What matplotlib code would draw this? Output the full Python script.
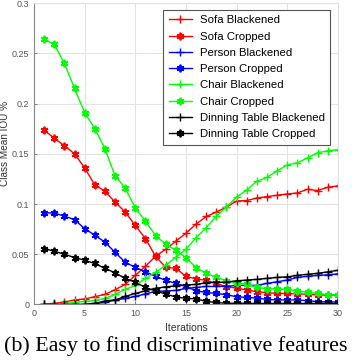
import matplotlib
matplotlib.use("Agg")
import matplotlib.pyplot as plt
import numpy as np

# iterations 1..30
iterations = list(range(1, 31))

sofa_blackened = [0.0005, 0.001, 0.0025, 0.0045, 0.0055, 0.0078, 0.010, 0.0147, 0.020, 0.029,
                  0.038, 0.048, 0.055, 0.063, 0.071, 0.080, 0.0876, 0.092, 0.097, 0.103,
                  0.1035, 0.106, 0.1074, 0.1087, 0.110, 0.111, 0.1147, 0.1134, 0.1167, 0.118]
sofa_cropped = [0.1735, 0.1655, 0.158, 0.150, 0.136, 0.119, 0.1127, 0.102, 0.092, 0.0787,
                0.0655, 0.048, 0.037, 0.036, 0.028, 0.0255, 0.024, 0.021, 0.0176, 0.0163,
                0.0144, 0.0127, 0.0117, 0.011, 0.011, 0.0104, 0.0104, 0.0094, 0.0094, 0.0094]
person_blackened = [0.0, 0.0, 0.0, 0.0, 0.0, 0.001, 0.002, 0.0045, 0.006, 0.008,
                    0.0105, 0.013, 0.0135, 0.014, 0.016, 0.017, 0.018, 0.018, 0.018, 0.019,
                    0.019, 0.019, 0.021, 0.0226, 0.0243, 0.027, 0.028, 0.029, 0.0295, 0.0305]
person_cropped = [0.0913, 0.091, 0.088, 0.0844, 0.0755, 0.069, 0.062, 0.052, 0.042, 0.037,
                  0.0325, 0.028, 0.024, 0.021, 0.018, 0.0135, 0.012, 0.011, 0.0097, 0.0077,
                  0.007, 0.0064, 0.005, 0.0045, 0.0045, 0.0045, 0.0038, 0.0028, 0.0025, 0.0025]
chair_blackened = [0.0, 0.0, 0.001, 0.002, 0.003, 0.004, 0.006, 0.010, 0.015, 0.019,
                   0.026, 0.032, 0.039, 0.047, 0.055, 0.0665, 0.0764, 0.088, 0.097, 0.107,
                   0.114, 0.1226, 0.1265, 0.133, 0.139, 0.141, 0.146, 0.151, 0.153, 0.154]
chair_cropped = [0.264, 0.259, 0.240, 0.215, 0.191, 0.175, 0.155, 0.128, 0.116, 0.096,
                 0.083, 0.0685, 0.060, 0.054, 0.0467, 0.0368, 0.031, 0.027, 0.0236, 0.021,
                 0.0203, 0.017, 0.0157, 0.0157, 0.015, 0.0137, 0.012, 0.011, 0.0097, 0.0097]
table_blackened = [0.0, 0.0, 0.0, 0.0, 0.0, 0.001, 0.0035, 0.0045, 0.008, 0.011,
                   0.0137, 0.016, 0.0176, 0.0186, 0.0193, 0.020, 0.0216, 0.022, 0.0223, 0.0236,
                   0.0243, 0.025, 0.026, 0.027, 0.0275, 0.029, 0.030, 0.031, 0.0325, 0.034]
table_cropped = [0.0556, 0.053, 0.050, 0.0467, 0.044, 0.0408, 0.036, 0.0315, 0.026, 0.022,
                 0.017, 0.0135, 0.0104, 0.0075, 0.006, 0.0057, 0.003, 0.002, 0.0012, 0.0012,
                 0.001, 0.001, 0.001, 0.001, 0.001, 0.001, 0.001, 0.001, 0.001, 0.001]

series = [
    ("Sofa Blackened", sofa_blackened, "#ff0000", "+"),
    ("Sofa Cropped", sofa_cropped, "#ff0000", "*"),
    ("Person Blackened", person_blackened, "#0000ff", "+"),
    ("Person Cropped", person_cropped, "#0000ff", "*"),
    ("Chair Blackened", chair_blackened, "#00ff00", "+"),
    ("Chair Cropped", chair_cropped, "#00ff00", "*"),
    ("Dinning Table Blackened", table_blackened, "#000000", "+"),
    ("Dinning Table Cropped", table_cropped, "#000000", "*"),
]

plt.rcParams['font.family'] = ['Liberation Sans', 'DejaVu Sans']

fig = plt.figure(figsize=(3.52, 3.64), dpi=100)
ax = fig.add_axes([0.0966, 0.1635, 0.8634, 0.828])

for label, vals, color, mk in series:
    if mk == "+":
        ax.plot(iterations, vals, color=color, lw=1.0, marker="+", ms=6,
                mew=1.0, label=label)
    else:
        # MATLAB style asterisk
        ax.plot(iterations, vals, color=color, lw=1.0, marker=(6, 2, 0), ms=5.5,
                mew=1.3, label=label)

ax.set_xlim(0, 30)
ax.set_ylim(0, 0.3)
ax.set_xticks(np.arange(0, 31, 5))
ax.set_yticks([0, 0.05, 0.1, 0.15, 0.2, 0.25, 0.3])
ax.set_yticklabels(["0", "0.05", "0.1", "0.15", "0.2", "0.25", "0.3"])
ax.tick_params(labelsize=6.5, colors="#555555", length=2, width=0.5, direction="in")
ax.grid(True, color="#e3e3e3", lw=0.8)
ax.set_axisbelow(True)
for side in ["top", "right"]:
    ax.spines[side].set_color("#e0e0e0")
for side in ["left", "bottom"]:
    ax.spines[side].set_color("#888888")
    ax.spines[side].set_linewidth(0.8)

ax.set_xlabel("Iterations", fontsize=7.5, color="#333333", labelpad=3)
ax.set_ylabel("Class Mean IOU %", fontsize=7.2, color="#333333")
ax.yaxis.set_label_coords(-0.078, 0.536)

leg = ax.legend(loc="upper left", bbox_to_anchor=(0.425, 0.978), fontsize=8.2,
                handlelength=2.0, handletextpad=0.7, labelspacing=0.55,
                borderpad=0.5, borderaxespad=0, fancybox=False, framealpha=1,
                edgecolor="#555555")
leg.get_frame().set_linewidth(0.8)

fig.text(0.5, 0.037, "(b) Easy to find discriminative features", ha="center",
         va="baseline", fontsize=15.8, family="Liberation Serif")

fig.savefig("out.png", dpi=100)
